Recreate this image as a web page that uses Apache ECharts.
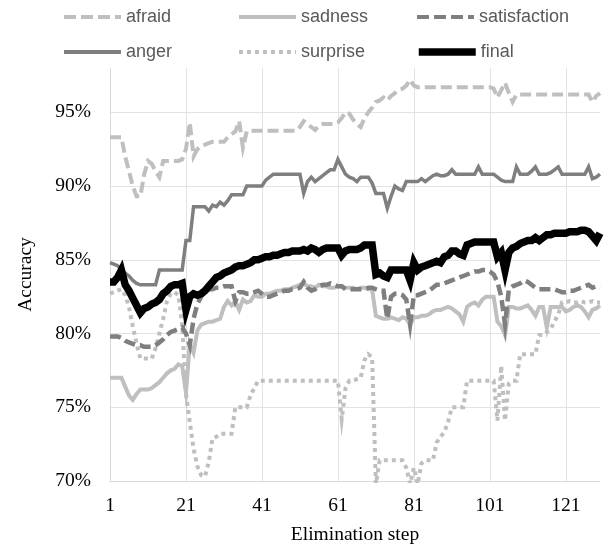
<!DOCTYPE html>
<html>
<head>
<meta charset="utf-8">
<script src="https://cdn.jsdelivr.net/npm/echarts@6/dist/echarts.min.js"></script>
<style>html,body{margin:0;padding:0;background:#fff}#c{width:608px;height:550px}</style>
</head>
<body>
<div id="c"></div>
<script>
var steps = [];
for (var i = 1; i <= 130; i++) steps.push(String(i));

var yTicks = [70, 75, 80, 85, 90, 95];

var afraid = [
93.3,93.3,93.3,93.3,92.0,91.0,90.0,89.3,89.3,90.8,
91.7,91.5,91.0,90.6,91.7,91.7,91.7,91.7,91.7,91.8,
92.5,94.3,92.0,92.5,92.7,92.8,92.9,93.0,93.0,93.0,
93.0,93.3,93.5,93.7,94.4,92.6,93.7,93.75,93.75,93.75,
93.75,93.75,93.75,93.75,93.75,93.75,93.75,93.75,93.75,93.75,
94.0,94.4,94.2,94.0,93.8,94.1,94.2,94.2,94.2,94.2,
94.3,94.6,95.0,94.9,94.5,94.2,94.0,94.6,95.0,95.3,
95.7,95.8,96.0,95.8,96.1,96.3,96.5,96.6,96.8,97.2,
96.8,96.7,96.7,96.7,96.7,96.7,96.7,96.7,96.7,96.7,
96.7,96.7,96.7,96.7,96.7,96.7,96.7,96.7,96.7,96.7,
96.7,96.6,96.0,96.5,97.0,96.3,95.7,96.2,96.2,96.2,
96.2,96.2,96.2,96.2,96.2,96.2,96.2,96.2,96.2,96.2,
96.2,96.2,96.2,96.2,96.2,96.2,96.2,95.7,96.1,96.3
];

var anger = [
84.8,84.7,84.6,84.3,84.1,83.9,83.6,83.4,83.3,83.3,
83.3,83.3,83.3,84.3,84.3,84.3,84.3,84.3,84.3,84.3,
86.3,86.3,88.6,88.6,88.6,88.6,88.3,88.7,88.6,88.9,
88.7,89.0,89.4,89.4,89.4,89.4,90.0,90.0,90.0,90.0,
90.0,90.4,90.6,90.8,90.8,90.8,90.8,90.8,90.8,90.8,
90.8,89.5,90.3,90.6,90.3,90.5,90.7,90.9,91.1,91.1,
91.8,91.3,90.8,90.6,90.5,90.3,90.6,90.6,90.6,90.2,
89.5,89.5,89.5,88.5,89.3,90.0,89.8,89.7,90.3,90.3,
90.3,90.3,90.5,90.3,90.5,90.7,90.8,90.7,90.7,90.8,
91.1,90.8,90.8,90.8,90.8,90.8,90.8,91.3,90.8,90.8,
90.8,90.8,90.6,90.4,90.3,90.3,90.3,91.3,90.8,90.8,
90.8,91.0,91.3,90.8,90.8,90.8,90.9,91.1,91.3,90.8,
90.8,90.8,90.8,90.8,90.8,90.8,91.3,90.5,90.6,90.8
];

var finalAcc = [
83.5,83.5,83.8,84.3,83.3,82.9,82.4,81.9,81.4,81.7,
81.8,82.0,82.1,82.3,82.7,82.9,83.2,83.3,83.3,83.4,
81.6,82.5,82.7,82.6,82.7,82.9,83.2,83.5,83.8,83.9,
84.1,84.2,84.3,84.5,84.6,84.6,84.7,84.8,85.0,85.0,
85.1,85.2,85.2,85.3,85.3,85.4,85.5,85.5,85.6,85.6,
85.6,85.7,85.6,85.8,85.7,85.5,85.7,85.8,85.8,85.8,
85.8,85.3,85.6,85.7,85.7,85.7,85.8,86.0,86.0,86.0,
84.0,84.1,83.9,83.8,84.3,84.3,84.3,84.3,84.3,83.6,
84.8,84.3,84.5,84.6,84.7,84.8,84.9,84.8,85.2,85.3,
85.6,85.6,85.4,85.3,86.0,86.1,86.2,86.2,86.2,86.2,
86.2,86.2,85.2,85.5,84.3,85.5,85.8,85.9,86.1,86.2,
86.3,86.3,86.5,86.3,86.5,86.7,86.7,86.8,86.8,86.8,
86.8,86.9,86.9,86.9,87.0,87.0,86.9,86.6,86.3,86.8
];

var satisfaction = [
79.8,79.8,79.8,79.7,79.5,79.4,79.3,79.2,79.2,79.1,
79.1,79.1,79.2,79.4,79.6,79.9,80.1,80.2,80.3,80.4,
80.0,79.2,81.0,82.0,82.5,82.8,83.0,83.0,83.1,83.1,
83.2,83.2,83.2,82.2,82.8,82.8,82.7,82.7,82.8,82.9,
82.7,82.5,82.5,82.6,82.7,82.8,82.9,82.9,83.0,83.0,
83.1,83.5,83.1,82.9,83.0,83.2,83.3,83.3,83.4,83.3,
83.2,83.2,83.0,83.0,83.0,83.0,83.0,83.0,83.1,83.1,
83.0,82.9,82.9,81.0,82.5,82.7,82.7,82.6,82.3,80.6,
82.6,82.6,82.7,82.8,82.9,83.1,83.3,83.3,83.4,83.5,
83.6,83.7,83.8,83.9,84.0,84.1,84.2,84.2,84.3,84.3,
84.2,84.0,83.5,82.5,80.6,83.0,83.2,83.3,83.4,83.6,
83.5,83.3,83.1,83.0,83.0,83.0,83.0,83.0,82.9,82.8,
82.8,82.9,82.9,83.0,83.1,83.2,83.3,83.1,83.2,83.1
];

var sadness = [
77.0,77.0,77.0,77.0,76.4,75.8,75.5,75.9,76.2,76.2,
76.2,76.3,76.5,76.7,77.0,77.3,77.5,77.6,77.9,77.8,
76.0,79.3,78.7,80.2,80.6,80.7,80.8,80.8,80.9,81.0,
81.8,82.2,81.9,82.2,81.6,82.3,82.1,82.2,82.6,82.5,
82.5,82.7,82.7,82.8,82.9,82.9,83.0,83.0,83.1,83.2,
83.3,83.4,83.2,83.2,83.1,83.3,83.2,83.2,83.1,83.1,
83.2,83.2,83.1,83.1,83.1,83.0,83.1,83.1,83.0,83.0,
81.2,81.1,81.0,81.0,81.1,81.0,80.9,81.1,81.0,80.6,
81.1,81.1,81.2,81.2,81.3,81.5,81.6,81.6,81.7,81.8,
81.7,81.5,81.3,80.8,81.8,82.0,82.1,81.9,82.3,82.5,
82.5,82.5,80.8,80.5,79.9,81.8,81.8,81.7,81.7,81.8,
81.9,81.6,81.2,81.8,81.8,80.4,81.8,81.8,81.8,81.8,
81.5,81.6,81.8,81.9,81.8,81.5,81.1,81.6,81.7,81.9
];

var surprise = [
82.7,82.8,82.9,83.0,82.6,81.8,80.5,79.3,78.3,78.3,
78.3,78.3,79.0,80.0,81.0,82.2,82.7,82.8,82.6,80.6,
75.9,74.0,72.2,71.0,70.4,70.3,71.3,72.9,73.0,73.2,
73.2,73.2,73.2,75.0,75.0,75.0,75.0,75.8,76.3,76.8,
76.8,76.8,76.8,76.8,76.8,76.8,76.8,76.8,76.8,76.8,
76.8,76.8,76.8,76.8,76.8,76.8,76.8,76.8,76.8,76.8,
76.8,74.2,76.3,76.8,76.8,76.9,77.0,78.2,78.6,78.4,
69.8,71.4,71.4,71.4,71.4,71.4,71.4,71.4,70.9,69.8,
70.9,69.8,71.2,71.4,71.4,71.4,72.6,73.0,73.3,74.0,
75.0,75.0,75.0,75.0,76.8,76.8,76.8,76.8,76.8,76.8,
76.8,76.8,74.1,77.8,74.1,76.6,76.8,76.8,78.6,78.6,
78.6,78.6,78.6,79.9,79.9,80.1,80.3,80.8,81.3,82.1,
82.1,82.2,82.1,82.1,82.2,82.1,82.1,82.2,82.1,82.1
];

var LIGHT = '#BFBFBF', MID = '#7F7F7F';
function mk(name, data, color, width, type, z) {
  return {
    name: name, type: 'line', data: data, symbol: 'none', showSymbol: false,
    z: z, animation: false,
    lineStyle: { color: color, width: width, type: type, cap: 'butt', join: 'miter' },
    itemStyle: { color: color }
  };
}
function lg(name, left, top, color, width, type) {
  return {
    data: [name], left: left, top: top, padding: 0, itemWidth: 57, itemHeight: 14,
    itemGap: 0, selectedMode: false,
    itemStyle: { opacity: 0 },
    lineStyle: { color: color, width: width, type: type, cap: 'butt' },
    textStyle: { fontFamily: 'Liberation Sans', fontSize: 18, color: '#595959' }
  };
}
var serif = 'Liberation Serif';
var chart = echarts.init(document.getElementById('c'), null, { renderer: 'canvas' });
chart.setOption({
  backgroundColor: '#fff',
  animation: false,
  legend: [
    lg('afraid', 62, 8, LIGHT, 4, [12, 5]),
    lg('sadness', 237, 8, LIGHT, 4, 'solid'),
    lg('satisfaction', 415, 8, MID, 4, [12, 5]),
    lg('anger', 62, 43, MID, 4, 'solid'),
    lg('surprise', 237, 43, LIGHT, 4, [4, 4]),
    lg('final', 415, 43, '#000000', 7.5, 'solid')
  ],
  grid: { left: 110, right: 8, top: 68, bottom: 64, containLabel: false },
  xAxis: {
    type: 'category', data: steps, boundaryGap: false,
    name: 'Elimination step', nameLocation: 'middle', nameGap: 44,
    nameTextStyle: { fontFamily: serif, fontSize: 19.5, color: '#000' },
    axisLine: { show: true, lineStyle: { color: '#D9D9D9', width: 1 } },
    axisTick: { show: false },
    axisLabel: { interval: 19, margin: 15, fontFamily: serif, fontSize: 19.5, color: '#000' },
    splitLine: { show: true, interval: 19, lineStyle: { color: '#E3E3E3', width: 1 } }
  },
  yAxis: {
    type: 'value', min: yTicks[0], max: 98, interval: 5,
    name: 'Accuracy', nameLocation: 'middle', nameGap: 74, nameRotate: 90,
    nameTextStyle: { fontFamily: serif, fontSize: 19.5, color: '#000' },
    axisLine: { show: true, lineStyle: { color: '#D9D9D9', width: 1 } },
    axisTick: { show: false },
    axisLabel: { margin: 19, showMaxLabel: false, fontFamily: serif, fontSize: 19.5, color: '#000',
      formatter: function (v) { return yTicks.indexOf(v) >= 0 ? v + '%' : ''; } },
    splitLine: { show: true, showMaxLine: false, lineStyle: { color: '#E3E3E3', width: 1 } }
  },
  series: [
    mk('surprise', surprise, LIGHT, 4, [4, 4], 2),
    mk('sadness', sadness, LIGHT, 4, 'solid', 3),
    mk('afraid', afraid, LIGHT, 4, [11, 5], 4),
    mk('anger', anger, MID, 3.5, 'solid', 5),
    mk('satisfaction', satisfaction, MID, 4.5, [11, 5], 6),
    mk('final', finalAcc, '#000000', 7.5, 'solid', 7)
  ]
});
</script>
</body>
</html>
